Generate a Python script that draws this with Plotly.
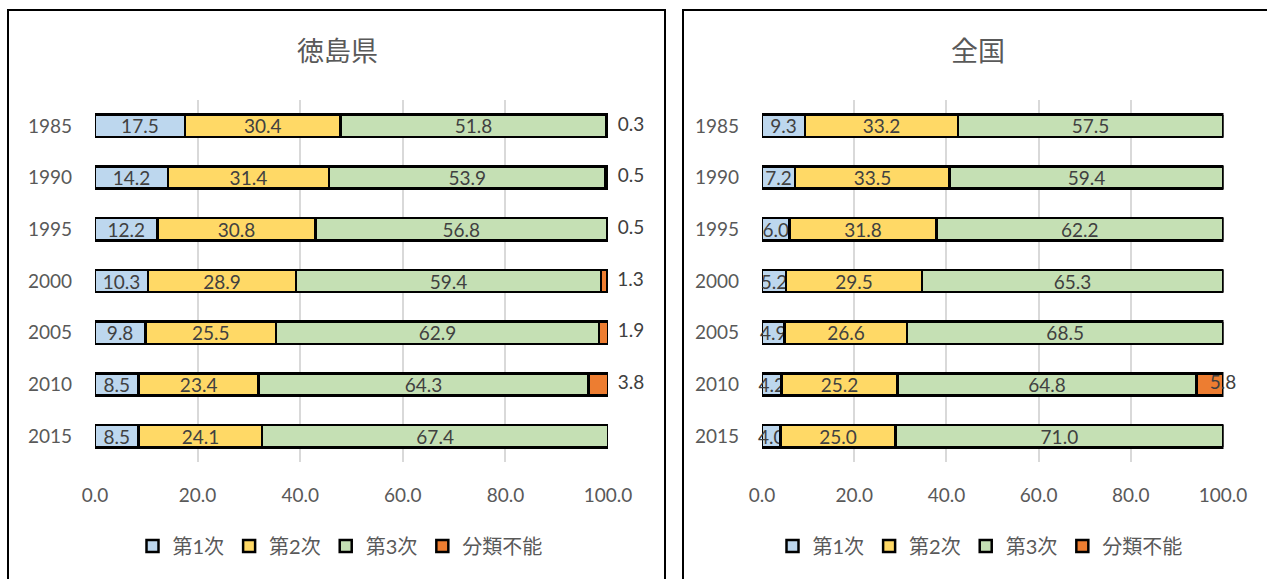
import plotly.graph_objects as go

years = ["1985", "1990", "1995", "2000", "2005", "2010", "2015"]
series_names = ["第1次", "第2次", "第3次", "分類不能"]
colors = ["#BDD7EE", "#FFD966", "#C5E0B4", "#ED7D31"]

tokushima_1 = [17.5, 14.2, 12.2, 10.3, 9.8, 8.5, 8.5]
tokushima_2 = [30.4, 31.4, 30.8, 28.9, 25.5, 23.4, 24.1]
tokushima_3 = [51.8, 53.9, 56.8, 59.4, 62.9, 64.3, 67.4]
tokushima_4 = [0.3, 0.5, 0.5, 1.3, 1.9, 3.8, 0.0]

zenkoku_1 = [9.3, 7.2, 6.0, 5.2, 4.9, 4.2, 4.0]
zenkoku_2 = [33.2, 33.5, 31.8, 29.5, 26.6, 25.2, 25.0]
zenkoku_3 = [57.5, 59.4, 62.2, 65.3, 68.5, 64.8, 71.0]
zenkoku_4 = [0.0, 0.0, 0.0, 0.0, 0.0, 5.8, 0.0]

titles = ["徳島県", "全国"]
x_ticks = [0, 20, 40, 60, 80, 100]

FONT = "Lato, 'Noto Sans CJK JP', sans-serif"
TXT = "#404040"
TICK = "#595959"
W, H = 1267, 579

fig = go.Figure()

panels = [
    ([tokushima_1, tokushima_2, tokushima_3, tokushima_4], "x", "y", "legend", "middle right", "\u00a0\u00a0"),
    ([zenkoku_1, zenkoku_2, zenkoku_3, zenkoku_4], "x2", "y2", "legend2", "middle center", ""),
]

for data, xa, ya, lg, lastpos, pad in panels:
    for i, (name, vals) in enumerate(zip(series_names, data)):
        texts = [f"{v:.1f}" for v in vals] if i < 3 else None
        fig.add_trace(go.Bar(
            y=years, x=vals, orientation="h", name=name,
            marker=dict(color=colors[i], line=dict(color="black", width=2.5)),
            text=texts, textposition="inside" if texts else "none",
            insidetextanchor="middle", textangle=0,
            textfont=dict(color=TXT, size=19, family=FONT),
            cliponaxis=False, constraintext="none",
            xaxis=xa, yaxis=ya, legend=lg, hoverinfo="skip",
        ))
    # labels for the small last segment, at the end of each stacked bar
    last = data[3]
    totals = [min(sum(col), 100.0) for col in zip(*data)]
    lab_x = [t for t, v in zip(totals, last) if v > 0]
    lab_y = [y for y, v in zip(years, last) if v > 0]
    lab_t = [pad + f"{v:.1f}" for v in last if v > 0]
    fig.add_trace(go.Scatter(
        x=lab_x, y=lab_y, text=lab_t, mode="text", textposition=lastpos,
        textfont=dict(color=TXT, size=19, family=FONT),
        showlegend=False, cliponaxis=False, xaxis=xa, yaxis=ya, hoverinfo="skip",
    ))

xcommon = dict(tickvals=x_ticks, tickformat=".1f", automargin=False,
               showgrid=True, gridcolor="#D9D9D9", gridwidth=2, zeroline=False,
               showline=False, ticks="", ticklabelstandoff=20,
               tickfont=dict(size=19, color=TICK, family=FONT))
ycommon = dict(categoryorder="array", categoryarray=years, autorange="reversed", automargin=False,
               showgrid=False, zeroline=False, showline=False, ticks="",
               tickfont=dict(size=19, color=TICK, family=FONT), ticklabelstandoff=22)

ydom = [1 - 462 / H, 1 - 100 / H]

fig.update_layout(
    width=W, height=H,
    margin=dict(l=0, r=0, t=0, b=0, autoexpand=False),
    paper_bgcolor="white", plot_bgcolor="white",
    barmode="stack", bargap=0.57,
    font=dict(family=FONT, color=TICK),
    uniformtext=dict(minsize=19, mode="show"),
    xaxis=dict(domain=[95 / W, 608 / W], anchor="y", range=[0, 100], **xcommon),
    yaxis=dict(domain=ydom, anchor="x", **ycommon),
    xaxis2=dict(domain=[762 / W, 1223.5 / W], anchor="y2", range=[0, 100.1], **xcommon),
    yaxis2=dict(domain=ydom, anchor="x2", **ycommon),
    legend=dict(orientation="h", x=340 / W, y=1 - 546 / H, xanchor="center", yanchor="middle",
                font=dict(size=20, color=TICK, family=FONT), traceorder="normal", itemwidth=30),
    legend2=dict(orientation="h", x=980 / W, y=1 - 546 / H, xanchor="center", yanchor="middle",
                 font=dict(size=20, color=TICK, family=FONT), traceorder="normal", itemwidth=30),
    annotations=[
        dict(text=titles[0], x=337 / W, y=1 - 50 / H, xref="paper", yref="paper",
             xanchor="center", yanchor="middle",
             showarrow=False, font=dict(size=27, color=TICK, family=FONT)),
        dict(text=titles[1], x=978 / W, y=1 - 50 / H, xref="paper", yref="paper",
             xanchor="center", yanchor="middle",
             showarrow=False, font=dict(size=27, color=TICK, family=FONT)),
    ],
    shapes=[
        dict(type="rect", xref="paper", yref="paper", x0=8 / W, x1=665 / W,
             y0=-0.05, y1=1 - 10 / H, line=dict(color="black", width=2)),
        dict(type="rect", xref="paper", yref="paper", x0=683 / W, x1=1.05,
             y0=-0.05, y1=1 - 10 / H, line=dict(color="black", width=2)),
    ],
)

fig.write_html("out.html", config={"displayModeBar": False},
               post_script="document.body.style.margin='0';document.body.style.overflow='hidden';")
